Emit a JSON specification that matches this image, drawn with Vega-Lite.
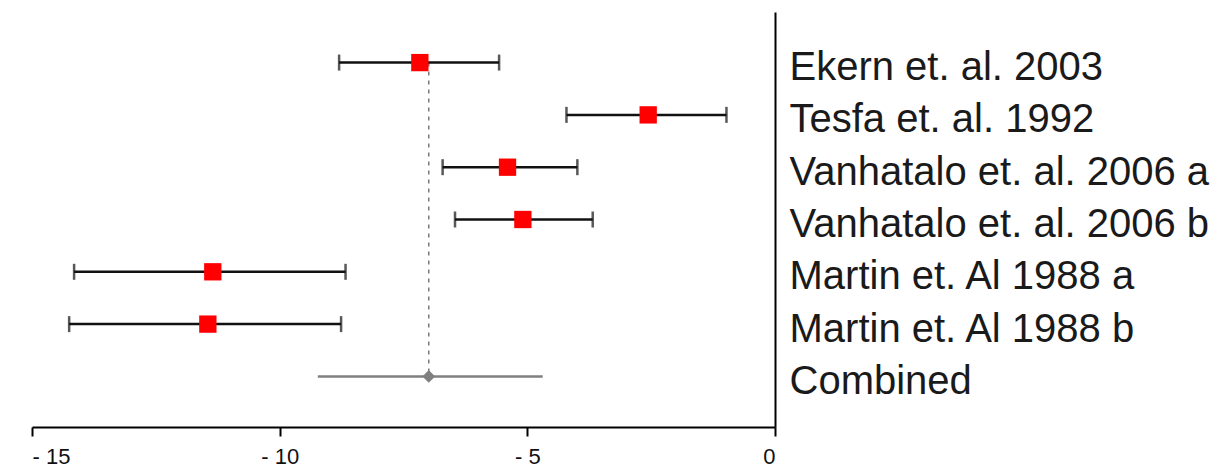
{
  "$schema": "https://vega.github.io/schema/vega-lite/v6.json",
  "width": 743,
  "height": 415,
  "autosize": {"type": "none"},
  "padding": {"left": 32, "top": 12, "right": 441, "bottom": 47},
  "background": "white",
  "config": {"view": {"stroke": null}, "font": "Liberation Sans"},
  "datasets": {
    "studies": [
      {"study": "Ekern et. al. 2003", "est": -7.17, "lo": -8.80, "hi": -5.57, "kind": "study"},
      {"study": "Tesfa et. al. 1992", "est": -2.56, "lo": -4.21, "hi": -0.98, "kind": "study"},
      {"study": "Vanhatalo et. al. 2006 a", "est": -5.40, "lo": -6.71, "hi": -3.99, "kind": "study"},
      {"study": "Vanhatalo et. al. 2006 b", "est": -5.09, "lo": -6.46, "hi": -3.68, "kind": "study"},
      {"study": "Martin et. Al 1988 a", "est": -11.35, "lo": -14.15, "hi": -8.67, "kind": "study"},
      {"study": "Martin et. Al 1988 b", "est": -11.45, "lo": -14.25, "hi": -8.76, "kind": "study"},
      {"study": "Combined", "est": -6.99, "lo": -9.23, "hi": -4.69, "kind": "combined"}
    ],
    "refline": [
      {"value": -6.99, "from": "Ekern et. al. 2003", "to": "Combined"}
    ]
  },
  "layer": [
    {
      "data": {"name": "refline"},
      "mark": {"type": "rule", "color": "#7a7a7a", "strokeWidth": 1.5, "strokeDash": [4, 5]},
      "encoding": {
        "x": {"field": "value", "type": "quantitative"},
        "y": {"field": "from", "type": "ordinal"},
        "y2": {"field": "to"}
      }
    },
    {
      "data": {"name": "studies"},
      "transform": [{"filter": "datum.kind === 'study'"}],
      "mark": {"type": "rule", "color": "#111111", "strokeWidth": 2.5},
      "encoding": {
        "x": {"field": "lo", "type": "quantitative"},
        "x2": {"field": "hi"},
        "y": {"field": "study", "type": "ordinal"}
      }
    },
    {
      "data": {"name": "studies"},
      "transform": [{"filter": "datum.kind === 'study'"}, {"fold": ["lo", "hi"], "as": ["end", "endval"]}],
      "mark": {"type": "tick", "color": "#111111", "thickness": 2.5, "size": 16, "orient": "vertical"},
      "encoding": {
        "x": {"field": "endval", "type": "quantitative"},
        "y": {"field": "study", "type": "ordinal"}
      }
    },
    {
      "data": {"name": "studies"},
      "transform": [{"filter": "datum.kind === 'study'"}],
      "mark": {"type": "point", "shape": "square", "filled": true, "color": "#ff0000", "opacity": 1, "size": 300},
      "encoding": {
        "x": {"field": "est", "type": "quantitative"},
        "y": {"field": "study", "type": "ordinal"}
      }
    },
    {
      "data": {"name": "studies"},
      "transform": [{"filter": "datum.kind === 'combined'"}],
      "mark": {"type": "rule", "color": "#808080", "strokeWidth": 2.5},
      "encoding": {
        "x": {"field": "lo", "type": "quantitative"},
        "x2": {"field": "hi"},
        "y": {"field": "study", "type": "ordinal"}
      }
    },
    {
      "data": {"name": "studies"},
      "transform": [{"filter": "datum.kind === 'combined'"}],
      "mark": {"type": "point", "shape": "diamond", "filled": true, "color": "#808080", "opacity": 1, "size": 160},
      "encoding": {
        "x": {"field": "est", "type": "quantitative"},
        "y": {"field": "study", "type": "ordinal"}
      }
    }
  ],
  "resolve": {"scale": {"x": "shared", "y": "shared"}},
  "encoding": {
    "x": {
      "type": "quantitative",
      "scale": {"domain": [-15, 0], "nice": false, "zero": false},
      "axis": {
        "title": null,
        "values": [-15, -10, -5, 0],
        "grid": false,
        "domainColor": "#000000",
        "domainWidth": 2,
        "tickColor": "#000000",
        "tickWidth": 2,
        "tickSize": 9,
        "labelFontSize": 22,
        "labelColor": "#111111",
        "labelPadding": 10,
        "labelExpr": "datum.value < 0 ? '- ' + abs(datum.value) : '0'"
      }
    },
    "y": {
      "type": "ordinal",
      "sort": null,
      "scale": {"type": "point", "padding": 0.967, "domain": ["Ekern et. al. 2003", "Tesfa et. al. 1992", "Vanhatalo et. al. 2006 a", "Vanhatalo et. al. 2006 b", "Martin et. Al 1988 a", "Martin et. Al 1988 b", "Combined"]},
      "axis": {
        "orient": "right",
        "title": null,
        "grid": false,
        "ticks": false,
        "domainColor": "#000000",
        "domainWidth": 2,
        "labelFontSize": 40,
        "labelColor": "#1a1a1a",
        "labelPadding": 14,
        "labelOffset": 5,
        "labelLimit": 0
      }
    }
  }
}
